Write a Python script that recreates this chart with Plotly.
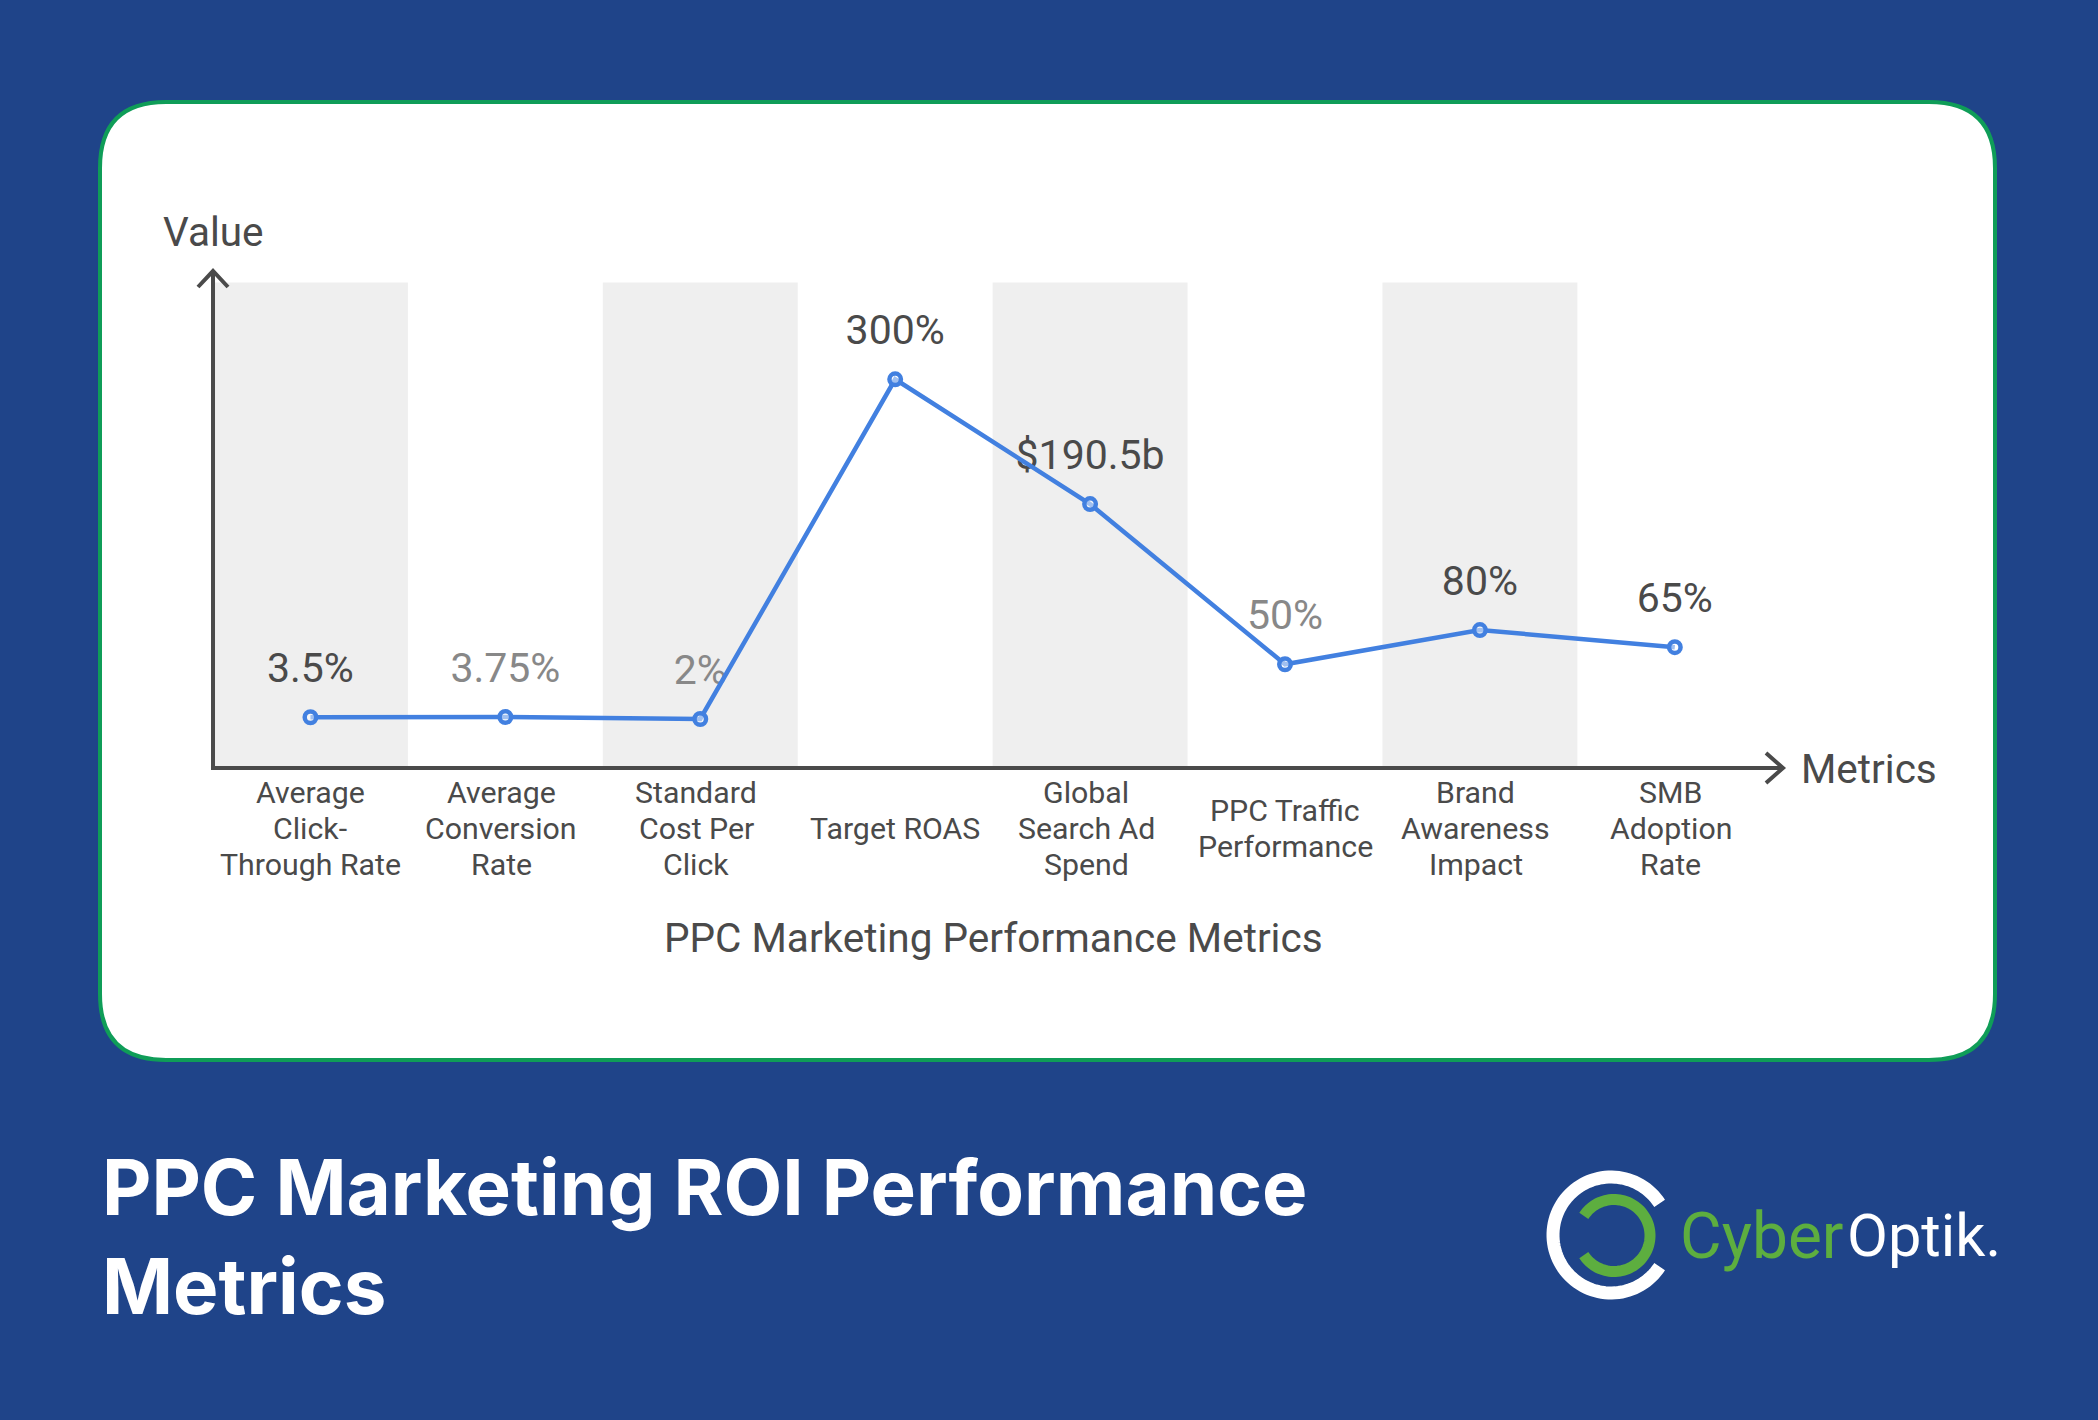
import numpy as np
import plotly.graph_objects as go

W, H = 2098, 1420

# chart data
metrics = ["Average<br>Click-<br>Through Rate", "Average<br>Conversion<br>Rate", "Standard<br>Cost Per<br>Click",
           "Target ROAS", "Global<br>Search Ad<br>Spend", "PPC Traffic<br>Performance",
           "Brand<br>Awareness<br>Impact", "SMB<br>Adoption<br>Rate"]
values = [3.5, 3.75, 2, 300, 190.5, 50, 80, 65]
value_labels = ["3.5%", "3.75%", "2%", "300%", "$190.5b", "50%", "80%", "65%"]
label_colors = ["#4a4a4a", "#888888", "#888888", "#4a4a4a", "#4a4a4a", "#888888", "#4a4a4a", "#4a4a4a"]
tick_shift = [0, -4, -4, 0, -4, 0, -4, -4]

# colours
BG = "#1f4489"
CARD_LINE = "#0f9d58"
INK = "#4a4a4a"
LINE = "#4280e0"
BAND = "#efefef"
LOGO_GREEN = "#5dae3f"

# plot box in pixels
PX0, PX1, PY0, PY1 = 213, 1783, 271, 768
y_range = [-41, 395]
band_top = 385


def fx(x):
    return x / W


def fy(y):
    return 1 - y / H


def path(points, close=False):
    s = "M " + " L ".join(f"{fx(x):.5f},{fy(y):.5f}" for x, y in points)
    return s + (" Z" if close else "")


def arc(cx, cy, r, a0, a1):
    ang = np.radians(np.linspace(a0, a1, 90))
    return path(list(zip(cx + r * np.cos(ang), cy - r * np.sin(ang))))


def round_rect(x0, y0, x1, y1, r):
    return (f"M {fx(x0 + r)},{fy(y0)} L {fx(x1 - r)},{fy(y0)} Q {fx(x1)},{fy(y0)} {fx(x1)},{fy(y0 + r)} "
            f"L {fx(x1)},{fy(y1 - r)} Q {fx(x1)},{fy(y1)} {fx(x1 - r)},{fy(y1)} "
            f"L {fx(x0 + r)},{fy(y1)} Q {fx(x0)},{fy(y1)} {fx(x0)},{fy(y1 - r)} "
            f"L {fx(x0)},{fy(y0 + r)} Q {fx(x0)},{fy(y0)} {fx(x0 + r)},{fy(y0)} Z")


def paper_shape(p, color, width, fill=None, layer="above"):
    return dict(type="path", xref="paper", yref="paper", path=p, layer=layer,
                line=dict(color=color, width=width), fillcolor=fill)


def text(s, x, y, size, color=INK, xanchor="center", yanchor="middle", weight=None, family="Roboto", align="center"):
    return dict(text=s, x=fx(x), y=fy(y), xref="paper", yref="paper", showarrow=False, align=align,
                xanchor=xanchor, yanchor=yanchor, font=dict(family=family, size=size, color=color, weight=weight))


shapes = [paper_shape(round_rect(100, 102, 1995, 1060, 66), CARD_LINE, 4, fill="white", layer="below")]

# grey bands behind every other metric
for i in range(0, len(metrics), 2):
    shapes.append(dict(type="rect", xref="x", yref="y", x0=i - 0.5, x1=i + 0.5, y0=y_range[0], y1=band_top,
                       fillcolor=BAND, line=dict(width=0), layer="below"))

# axes with arrow heads
shapes.append(paper_shape(path([(PX0, PY1), (PX0, PY0)]), INK, 4))
shapes.append(paper_shape(path([(PX0 - 2, PY1), (PX1, PY1)]), INK, 4))
shapes.append(paper_shape(path([(198, 287), (PX0, PY0), (228, 287)]), INK, 4))
shapes.append(paper_shape(path([(1766, 753), (PX1, PY1), (1766, 783)]), INK, 4))

# logo rings
shapes.append(paper_shape(arc(1611, 1235, 58, 33, 327), "white", 13))
shapes.append(paper_shape(arc(1614, 1235.5, 36, -147, 147), LOGO_GREEN, 11))

annotations = [
    text("Value", 213, 232, 40.5),
    text("Metrics", 1869, 769, 40.5),
    text("PPC Marketing Performance Metrics", 993, 938, 40.5),
    text("PPC Marketing ROI Performance<br>Metrics", 100, 1236, 76.3, color="white", xanchor="left",
         weight=700, family="Inter", align="left"),
    text("Cyber", 1678, 1236, 64, color=LOGO_GREEN, xanchor="left"),
    text("Optik.", 1845, 1236, 59.5, color="white", xanchor="left"),
]

# category labels, one annotation per line to hold the 36px leading
for i, m in enumerate(metrics):
    lines = m.split("<br>")
    for k, part in enumerate(lines):
        annotations.append(dict(text=part, x=i, y=fy(828 + 36 * (k - (len(lines) - 1) / 2)), xref="x", yref="paper",
                                xshift=tick_shift[i], showarrow=False, xanchor="center", yanchor="middle",
                                font=dict(family="Roboto", size=30.3, color=INK)))

fig = go.Figure()
# labels first so the line runs over them
fig.add_trace(go.Scatter(x=list(range(len(metrics))), y=values, mode="markers+text", text=value_labels,
                         textposition="top center", marker=dict(size=38, opacity=0),
                         textfont=dict(family="Roboto", size=41, color=label_colors), hoverinfo="skip"))
fig.add_trace(go.Scatter(x=list(range(len(metrics))), y=values, mode="lines+markers",
                         line=dict(color=LINE, width=4.5),
                         marker=dict(size=11.5, color="rgba(255,255,255,0.5)", line=dict(color=LINE, width=4.5))))

fig.update_layout(
    width=W, height=H, margin=dict(l=0, r=0, t=0, b=0), paper_bgcolor=BG, plot_bgcolor="rgba(0,0,0,0)",
    showlegend=False, shapes=shapes, annotations=annotations,
    xaxis=dict(domain=[fx(PX0), fx(PX1)], range=[-0.5, 7.555], showgrid=False, zeroline=False, showticklabels=False,
               showline=False, ticks=""),
    yaxis=dict(domain=[fy(PY1), fy(PY0)], range=y_range, showgrid=False, zeroline=False, showticklabels=False,
               showline=False, ticks=""),
)

fig.write_html("out.html", config={"displayModeBar": False}, post_script="document.body.style.margin='0';")
